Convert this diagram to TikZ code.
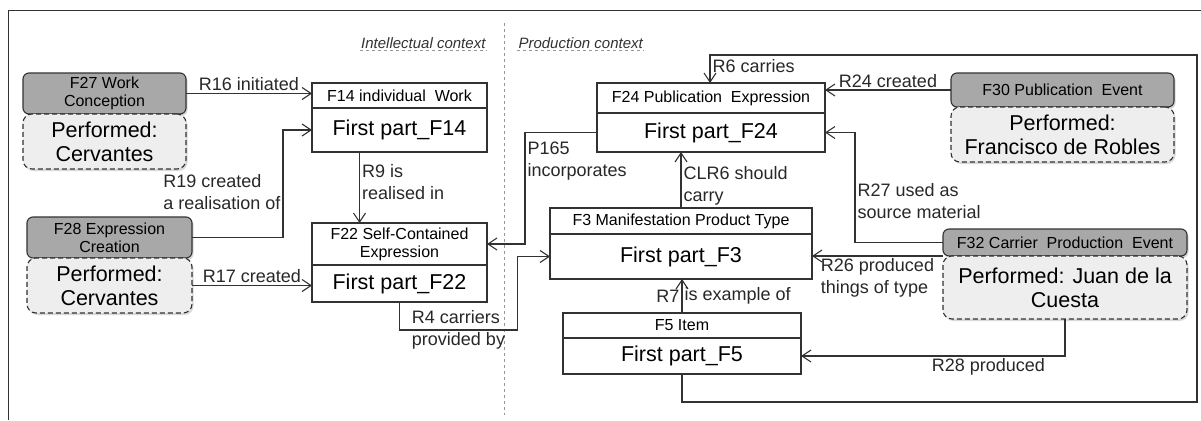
\documentclass[tikz,border=0pt]{standalone}
\usepackage{fontspec}
\setmainfont{Liberation Sans}
\usetikzlibrary{arrows.meta,positioning,shadows}
\definecolor{frbrline}{RGB}{50,50,50}
\definecolor{frbrhead}{RGB}{168,168,168}
\definecolor{frbrbody}{RGB}{238,238,238}
\definecolor{frbrsep}{RGB}{150,150,150}

\begin{document}
\begin{tikzpicture}[
    x=1pt,y=-1pt,
    line width=1.1pt,
    node distance=0pt,
    hd/.style={draw=frbrline,fill=white,align=center,inner sep=0pt,outer sep=0pt,font=\fontsize{16}{18}\selectfont},
    bd/.style={draw=frbrline,fill=white,align=center,inner sep=0pt,outer sep=0pt,font=\fontsize{21.5}{24}\selectfont},
    evhd/.style={hd,rounded corners=6pt,fill=frbrhead,drop shadow={opacity=0.3,shadow xshift=1.5pt,shadow yshift=-2pt}},
    evbd/.style={bd,rounded corners=9pt,dash pattern=on 5pt off 3pt,fill=frbrbody,drop shadow={opacity=0.3,shadow xshift=1.5pt,shadow yshift=-2pt}},
    lbl/.style={font=\fontsize{18}{22}\selectfont,inner sep=2pt,align=left,text=frbrline!80!black},
    rel/.style={draw=frbrline,-{Straight Barb[length=9pt,width=12pt]}},
    ctx/.style={font=\itshape\fontsize{15}{17}\selectfont,text=frbrline,inner sep=1pt}
  ]
  \useasboundingbox (0,0) rectangle (1201,420);
  \fill[white] (0,0) rectangle (1201,420);
  \draw[frbrline,line width=1pt] (8,420) -- (8,11) -- (1201,11);
  \draw[frbrsep,dashed,line width=0.8pt] (504,23) -- (504,415);

  % contexts
  \node[ctx,anchor=east] (intctx) at (487,43) {Intellectual context};
  \node[ctx,anchor=west] (prodctx) at (517,43) {Production context};
  \draw[frbrsep,dashed,line width=0.6pt] (intctx.south west) -- (intctx.south east);
  \draw[frbrsep,dashed,line width=0.6pt] (prodctx.south west) -- (prodctx.south east);

  % events
  \node[evhd,minimum width=163pt,minimum height=41pt] (f27h) at (104.5,93.5) {F27 Work\\Conception};
  \node[evbd,minimum width=163pt,minimum height=55pt,below=of f27h] (f27) {Performed:\\Cervantes};
  \node[evhd,minimum width=165pt,minimum height=41pt] (f28h) at (109.5,237.5) {F28 Expression\\Creation};
  \node[evbd,minimum width=165pt,minimum height=55pt,below=of f28h] (f28) {Performed:\\Cervantes};
  \node[evhd,minimum width=223pt,minimum height=34pt] (f30h) at (1062.5,90) {F30 Publication~ Event};
  \node[evbd,minimum width=223pt,minimum height=55pt,below=of f30h] (f30) {Performed:\\Francisco de Robles};
  \node[evhd,minimum width=244pt,minimum height=27pt] (f32h) at (1065,242.5) {F32 Carrier~ Production~ Event};
  \node[evbd,minimum width=244pt,minimum height=63pt,below=of f32h] (f32) {Performed: Juan de la\\Cuesta};

  % classes
  \node[hd,minimum width=175pt,minimum height=25pt] (f14h) at (399.5,95.5) {F14 individual~ Work};
  \node[bd,minimum width=175pt,minimum height=44pt,below=of f14h] (f14) {First part\_F14};
  \node[hd,minimum width=175pt,minimum height=42pt] (f22h) at (399.5,244) {F22 Self-Contained\\Expression};
  \node[bd,minimum width=175pt,minimum height=37pt,below=of f22h] (f22) {First part\_F22};
  \node[hd,minimum width=228pt,minimum height=30pt] (f24h) at (711,98) {F24 Publication~ Expression};
  \node[bd,minimum width=228pt,minimum height=39pt,below=of f24h] (f24) {First part\_F24};
  \node[hd,minimum width=262pt,minimum height=26pt] (f3h) at (681,221) {F3 Manifestation Product Type};
  \node[bd,minimum width=262pt,minimum height=45pt,below=of f3h] (f3) {First part\_F3};
  \node[hd,minimum width=238pt,minimum height=25pt] (f5h) at (682,325.5) {F5 Item};
  \node[bd,minimum width=238pt,minimum height=36pt,below=of f5h] (f5) {First part\_F5};

  % relations
  \draw[rel] (f27h.east) -- node[lbl,above]{R16 initiated} (f27h.east -| f14h.west);
  \draw[rel] (f28h.east) -- ++(91,0) |- node[lbl,pos=0.21,left]{R19 created\\a realisation of} (f14.west);
  \draw[rel] (f28.east) -- node[lbl,above]{R17 created} (f28.east -| f22.west);
  \draw[rel] ([xshift=-40pt]f14.south) -- node[lbl,pos=0.42,right]{R9 is\\realised in} ([xshift=-40pt]f22h.north);
  \draw[rel] (f24.west) -- ++(-72,0) |- node[lbl,pos=0.128,right]{P165\\incorporates} (f22h.east);
  \draw[rel] (f22.south) -- ++(0,28) -- node[lbl]{R4 carriers\\provided by} ++(118,0) |- (f3.west);
  \draw[rel] (f3h.north) -- node[lbl,pos=0.4,right]{CLR6 should\\carry} (f3h.north |- f24.south);
  \draw[rel] (f5h.north) -- node[lbl,left]{R7} node[lbl,right]{is example of} (f5h.north |- f3.south);
  \draw[rel] (f30h.west) -- node[lbl,above]{R24 created} (f30h.west -| f24h.east);
  \draw[rel] (f32h.west) -- ++(-88,0) |- node[lbl,pos=0.19,right]{R27 used as\\source material} (f24.east);
  \draw[rel] (f32h.south west) -- node[lbl,below]{R26 produced\\things of type} (f32h.south west -| f3.east);
  \draw[rel] (f32.south) |- node[lbl,pos=0.645,below]{R28 produced} (f5.east);
  \coordinate (loopse) at (1197,402);
  \coordinate (loopne) at (1197,55);
  \draw[rel] (f5.south) |- (loopse) -- (loopne) -| node[lbl,pos=0.7,right]{R6 carries} ([xshift=-1pt]f24h.north);
\end{tikzpicture}
\end{document}
